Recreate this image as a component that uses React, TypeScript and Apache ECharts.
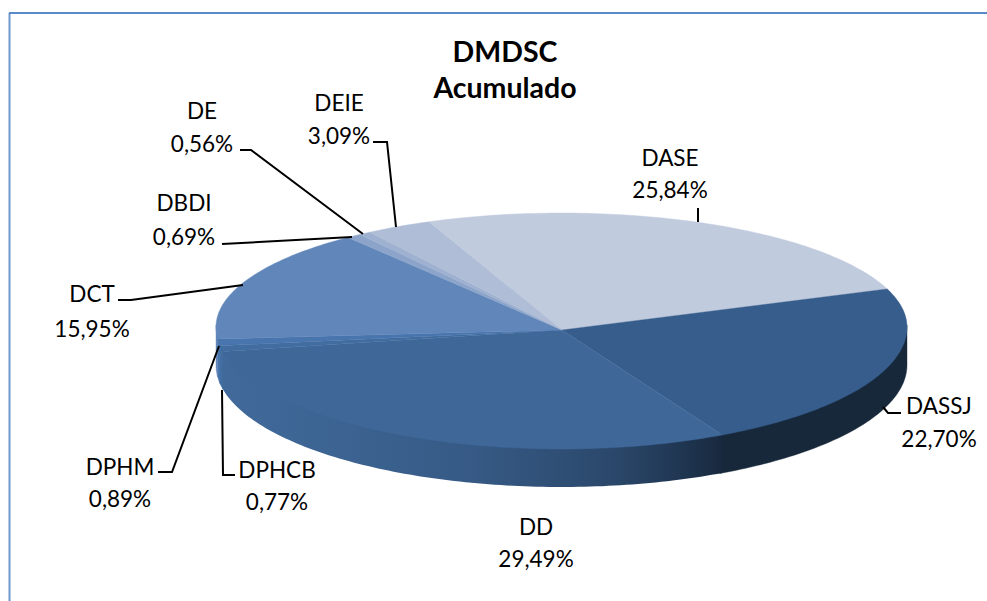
import React, { useEffect, useRef } from "react";
import * as echarts from "echarts";

const categories = ["DASE", "DASSJ", "DD", "DPHCB", "DPHM", "DCT", "DBDI", "DE", "DEIE"];
const shares = [25.84, 22.7, 29.49, 0.77, 0.89, 15.95, 0.69, 0.56, 3.09];
const topColors = ["#C1CBDE", "#365D8C", "#3F6899", "#426DA0", "#4875AD", "#6086BA", "#8CA4CA", "#9FB1D0", "#AFBDD6"];
const titleLines = ["DMDSC", "Acumulado"];

const FONT = "Lato";
const FONT_SIZE = 22.5;
const START = -22.5;
const APEX = { x: 562, y: 330 };
const CX = 561.5;
const CY = 327;
const RX = 345.5;
const RY_BACK = 114;
const RY_FRONT = 122;
const DEPTH = 38;

const labelLayout = [
  { x: 670, y: [157, 189], leader: [[698, 208], [698, 222]] },
  { x: 939, y: [405, 438], leader: [[883, 407], [888, 413], [901, 413]] },
  { x: 536, y: [526, 558], leader: [] },
  { x: 277, y: [469, 501], leader: [[222, 390], [223, 475], [235, 475]] },
  { x: 120, y: [466, 498], leader: [[219, 346], [172, 472], [158, 472]] },
  { x: 92, y: [293, 328], leader: [[118, 300], [131, 300], [243, 285]] },
  { x: 184, y: [202, 236], leader: [[222, 244], [352, 237]] },
  { x: 202, y: [110, 143], leader: [[240, 150], [251, 150], [363, 234]] },
  { x: 339, y: [102, 135], leader: [[373, 142], [387, 142], [396, 227]] },
];

const total = 100;
const startAngle = (i: number) =>
  START + (shares.slice(0, i).reduce((a, b) => a + b, 0) / total) * 360;

const rim = (deg: number, drop = 0) => {
  const r = (deg * Math.PI) / 180;
  const c = Math.cos(r);
  return [CX + RX * Math.sin(r), CY + drop - c * (c > 0 ? RY_BACK : RY_FRONT)];
};

const arc = (a: number, b: number, drop = 0) => {
  const n = Math.max(2, Math.ceil(Math.abs(b - a) / 1));
  const out: number[][] = [];
  for (let k = 0; k <= n; k++) out.push(rim(a + ((b - a) * k) / n, drop));
  return out;
};

const wallFill = (i: number) => {
  const name = categories[i];
  if (name === "DD")
    return new echarts.graphic.LinearGradient(0, 0, 1, 0, [
      { offset: 0, color: "#41699A" },
      { offset: 0.18, color: "#3D6594" },
      { offset: 0.5, color: "#365A85" },
      { offset: 0.78, color: "#2B486B" },
      { offset: 0.92, color: "#1F3651" },
      { offset: 1, color: "#18293E" },
    ]);
  if (name === "DASSJ") return "#17283B";
  return topColors[i];
};

export default function App() {
  const ref = useRef<HTMLDivElement>(null);
  useEffect(() => {
    const chart = echarts.init(ref.current!, undefined, { renderer: "svg" });

    const renderWall = (params: any, api: any) => {
      const i = params.dataIndex;
      const a = startAngle(i);
      const b = a + (api.value(0) / total) * 360;
      const from = Math.max(a, 90);
      const to = Math.min(b + 0.5, 270);
      if (to <= from) return { type: "group", children: [] };
      const pts = [...arc(from, to, -2), ...arc(to, from, DEPTH)];
      const fill = wallFill(i);
      return {
        type: "polygon",
        shape: { points: pts },
        style: { fill, stroke: typeof fill === "string" ? fill : undefined, lineWidth: 0.4 },
      };
    };

    const renderTop = (params: any, api: any) => {
      const i = params.dataIndex;
      const a = startAngle(i);
      const b = a + (api.value(0) / total) * 360;
      const pts = [[APEX.x, APEX.y], ...arc(a, b)];
      return {
        type: "polygon",
        shape: { points: pts },
        style: { fill: topColors[i], stroke: topColors[i], lineWidth: 0.4 },
      };
    };

    const labelText = categories.flatMap((name, i) => {
      const l = labelLayout[i];
      const pct = shares[i].toFixed(2).replace(".", ",") + "%";
      return [name, pct].map((t, k) => ({
        type: "text",
        x: l.x,
        y: l.y[k],
        style: { text: t, fontFamily: FONT, fontSize: FONT_SIZE, fill: "#000", align: "center", verticalAlign: "middle" },
      }));
    });
    const leaders = labelLayout
      .filter((l) => l.leader.length)
      .map((l) => ({
        type: "polyline",
        shape: { points: l.leader },
        style: { stroke: "#000", lineWidth: 2, fill: "none" },
        z: 5,
      }));
    const titles = titleLines.map((t, k) => ({
      type: "text",
      x: 505,
      y: 51 + k * 36,
      style: { text: t, fontFamily: FONT, fontWeight: "bold", fontSize: 28.5, fill: "#000", align: "center", verticalAlign: "middle" },
    }));

    chart.setOption({
      animation: false,
      backgroundColor: "#fff",
      series: [
        { type: "custom", coordinateSystem: "none", renderItem: renderWall, data: shares, silent: true, z: 2 },
        { type: "custom", coordinateSystem: "none", renderItem: renderTop, data: shares, silent: true, z: 3 },
      ],
      graphic: [
        { type: "line", shape: { x1: 9.5, y1: 13, x2: 9.5, y2: 601 }, style: { stroke: "#6F97CE", lineWidth: 2 } },
        { type: "line", shape: { x1: 9, y1: 13, x2: 987, y2: 13 }, style: { stroke: "#5B8AC8", lineWidth: 2 } },
        ...leaders,
        ...labelText,
        ...titles,
      ],
    });
    return () => chart.dispose();
  }, []);
  return <div ref={ref} style={{ position: "fixed", left: 0, top: 0, width: 987, height: 601 }} />;
}
